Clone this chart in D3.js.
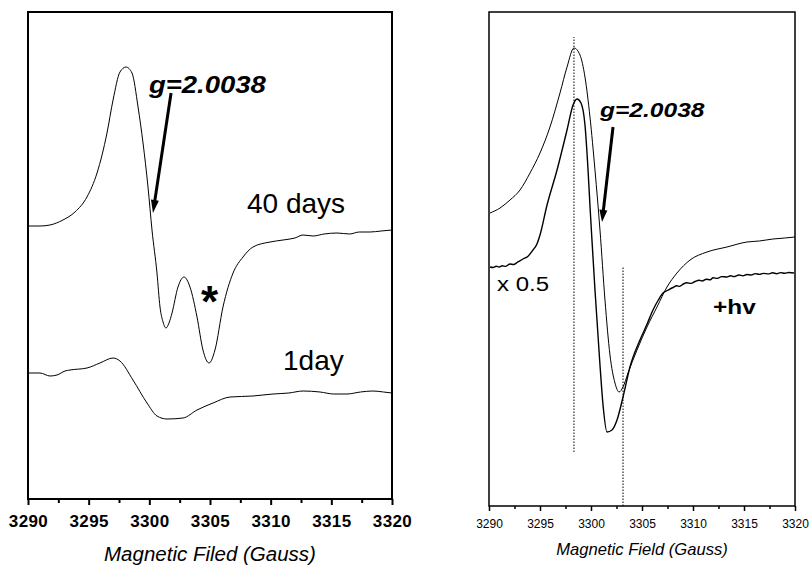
<!DOCTYPE html>
<html><head><meta charset="utf-8">
<script src="https://cdn.jsdelivr.net/npm/d3@7"></script>
<style>
html,body{margin:0;padding:0;background:#fff;}
svg{display:block;font-family:"Liberation Sans",Arial,Helvetica,sans-serif;}
</style></head>
<body><svg id="c" width="809" height="565"></svg>
<script>
// ---------- data (Gauss, intensity in arbitrary units) ----------
const fieldTicks = [3290,3295,3300,3305,3310,3315,3320];
const fieldMinorTicks = [3292.5,3297.5,3302.5,3307.5,3312.5,3317.5];

// left panel: 40 days
const days40 = [
 [3290.0,273],[3290.99,273],[3291.81,274],[3292.88,279],[3293.87,287],[3294.86,302],
 [3295.69,326],[3296.51,366],[3297.01,399],[3297.58,427],[3298.08,432],[3298.57,426],
 [3299.07,392],[3299.48,356],[3299.89,312],[3300.22,269],[3300.63,226],[3300.88,192],
 [3301.13,177],[3301.37,171],[3301.62,176],[3301.87,186],[3302.36,212],[3302.86,222],
 [3303.35,212],[3303.93,182],[3304.42,149],[3304.92,136],[3305.41,149],[3306.07,192],
 [3306.9,226],[3307.72,242],[3308.54,252],[3309.95,257],[3311.02,259],[3312.0,261],
 [3312.67,264],[3313.5,263],[3314.4,265],[3315.47,266],[3316.5,265],[3317.3,267],
 [3318.19,267],[3319.1,268],[3320.0,269]
];
// left panel: 1 day
const day1 = [
 [3290.0,126],[3290.99,126],[3291.81,123],[3292.39,124],[3293.05,128],[3293.46,129],
 [3294.86,131],[3295.93,136],[3297.01,141],[3297.58,138],[3298.65,119],[3299.81,96],
 [3300.63,83],[3301.46,80],[3302.78,81],[3303.93,89],[3305.25,96],[3306.65,102],
 [3308.54,103],[3310.19,105],[3311.5,106],[3312.67,108],[3314.07,107],[3315.2,105],
 [3316.29,105],[3317.4,107],[3318.43,108],[3319.3,107],[3320.0,106]
];
// right panel: broad trace
const traceA = [
 [3290.1,293],[3291.08,298],[3292.06,306],[3293.04,316],[3294.02,333],[3295.0,353],
 [3295.98,379],[3296.96,413],[3297.65,439],[3298.33,458],[3298.92,451],[3299.41,429],
 [3299.9,389],[3300.39,336],[3300.88,276],[3301.37,206],[3301.86,151],[3302.35,123],
 [3302.75,114],[3303.14,119],[3303.63,133],[3304.51,156],[3305.49,179],[3306.47,199],
 [3307.45,219],[3308.43,233],[3309.71,246],[3311.37,254],[3313.33,259],[3315.29,264],
 [3316.5,265],[3317.84,267],[3319.0,268],[3320.0,269]
];
// right panel: narrow (noisy) trace
const traceB = [
 [3290.1,239],[3290.4,238.5],[3290.7,239.8],[3291.0,239],[3291.3,240.2],[3291.6,239.6],
 [3292.06,242],[3292.4,241.5],[3292.8,243.8],[3293.33,247],[3293.8,249.5],
 [3294.31,256],[3294.7,262],[3295.0,271],[3295.69,301],
 [3296.67,336],[3297.65,376],[3298.24,401],[3298.63,407],[3299.02,403],[3299.41,381],
 [3299.71,336],[3299.9,300],[3300.1,265],[3300.39,216],[3300.88,141],[3301.18,101],
 [3301.57,74],[3302.06,76],[3302.55,86],[3303.14,109],[3303.82,139],[3304.8,166],
 [3305.5,182],[3306.08,196],[3306.6,206],[3307.06,213],[3307.5,215.5],[3308.04,218.5],
 [3308.4,220.2],[3308.7,219.6],[3309.05,222],[3309.41,223.2],[3309.8,222.6],[3310.2,224.5],
 [3310.6,225.8],[3310.9,225],[3311.3,226.8],[3311.7,226.2],[3311.96,228.2],[3312.4,227.6],
 [3312.8,229.4],[3313.3,229],[3313.7,230.3],[3314.0,229.4],[3314.5,231],[3314.9,230.2],
 [3315.29,231.5],[3315.7,231],[3316.1,232.4],[3316.5,231.6],[3316.9,232.6],[3317.4,232.1],
 [3317.8,233.2],[3318.2,232.3],[3318.6,233.4],[3319.0,232.7],[3319.4,233.5],[3319.9,233]
];
// dotted guide lines on right panel: [field, from, to]
const guides = [[3298.33,54,469],[3303.14,0,240]];

// ---------- drawing ----------
const svg = d3.select("#c");
const font = '"Liberation Sans",Arial,Helvetica,sans-serif';

function panel(opt){
  const x = d3.scaleLinear().domain([3290,3320]).range(opt.xr);
  const y = d3.scaleLinear().domain([0,opt.ymax]).range([opt.yb,opt.yt]);
  const g = svg.append("g");
  g.append("rect").attr("x",opt.xr[0]).attr("y",opt.yt)
    .attr("width",opt.xr[1]-opt.xr[0]).attr("height",opt.yb-opt.yt)
    .attr("fill","none").attr("stroke","#000").attr("stroke-width",opt.frameW);
  const minor = g.append("g").attr("transform",`translate(0,${opt.yb})`)
    .call(d3.axisBottom(x).tickValues(fieldMinorTicks).tickSize(opt.minorLen).tickFormat(""));
  minor.select(".domain").remove();
  minor.selectAll("line").attr("stroke-width",opt.tickW);
  const major = g.append("g").attr("transform",`translate(0,${opt.yb})`)
    .call(d3.axisBottom(x).tickValues(fieldTicks).tickSize(opt.majorLen)
      .tickPadding(opt.pad).tickFormat(d3.format("d")));
  major.select(".domain").remove();
  major.selectAll("line").attr("stroke-width",opt.tickW);
  major.selectAll("text").attr("font-family",font).attr("font-size",opt.tickFs)
    .attr("font-weight",opt.tickBold?"bold":"normal").attr("fill","#000")
    .attr("letter-spacing",opt.tickLs);
  g.append("text").attr("x",(opt.xr[0]+opt.xr[1])/2).attr("y",opt.titleY)
    .attr("text-anchor","middle").attr("font-style","italic")
    .attr("font-size",opt.titleFs).text(opt.title);
  return {x,y,g};
}

const L = panel({xr:[28,392],yt:12,yb:499,ymax:487,frameW:2,tickW:2,
  minorLen:4,majorLen:6,pad:9.5,tickFs:17,tickBold:true,tickLs:"0.4px",
  titleY:561,titleFs:20.5,title:"Magnetic Filed (Gauss)"});
const R = panel({xr:[489,795],yt:12,yb:506,ymax:494,frameW:1.5,tickW:1.5,
  minorLen:3,majorLen:5,pad:8.5,tickFs:12,tickBold:false,tickLs:"0px",
  titleY:555,titleFs:16.6,title:"Magnetic Field (Gauss)"});

function trace(P,data,w){
  const line = d3.line().x(d=>P.x(d[0])).y(d=>P.y(d[1])).curve(d3.curveMonotoneX);
  P.g.append("path").datum(data).attr("d",line)
    .attr("fill","none").attr("stroke","#000").attr("stroke-width",w)
    .attr("stroke-linejoin","round");
}
trace(L,days40,1);
trace(L,day1,1);
trace(R,traceA,1);
trace(R,traceB,1.4);

guides.forEach(d=>{
  R.g.append("line").attr("x1",R.x(d[0])).attr("x2",R.x(d[0]))
    .attr("y1",R.y(d[1])).attr("y2",R.y(d[2]))
    .attr("stroke","#000").attr("stroke-width",1).attr("stroke-dasharray","1.5,1.5");
});

function arrow(P,from,to,w,hl,hw){
  const x1=P.x(from[0]),y1=P.y(from[1]),x2=P.x(to[0]),y2=P.y(to[1]);
  const dx=x2-x1,dy=y2-y1,len=Math.hypot(dx,dy),ux=dx/len,uy=dy/len;
  const bx=x2-ux*hl,by=y2-uy*hl;
  P.g.append("line").attr("x1",x1).attr("y1",y1).attr("x2",bx+ux*2).attr("y2",by+uy*2)
    .attr("stroke","#000").attr("stroke-width",w);
  P.g.append("path").attr("d",`M${x2},${y2}L${bx-uy*hw},${by+ux*hw}L${bx+uy*hw},${by-ux*hw}Z`)
    .attr("fill","#000");
}
arrow(L,[3301.79,406],[3300.30,286],3,13,4);
arrow(R,[3302.16,379],[3301.08,284],3,12,4);

function label(x,y,txt,fs,opts){
  const t = svg.append("text").attr("transform",`translate(${x},${y}) scale(${opts.sx||1},1)`)
    .attr("font-size",fs).attr("font-family",font).attr("fill","#000").text(txt);
  if(opts.bold) t.attr("font-weight","bold");
  if(opts.italic) t.attr("font-style","italic");
  return t;
}
label(149,93,"g=2.0038",23.5,{bold:true,italic:true,sx:1.17});
label(247,213,"40 days",28,{});
label(283,370,"1day",28,{});
label(201,317,"*",44,{bold:true});
label(600,117,"g=2.0038",21,{bold:true,italic:true,sx:1.17});
label(497,291,"x 0.5",20.5,{sx:1.17});
label(713,314,"+hv",20,{bold:true,sx:1.22});
</script></body></html>
